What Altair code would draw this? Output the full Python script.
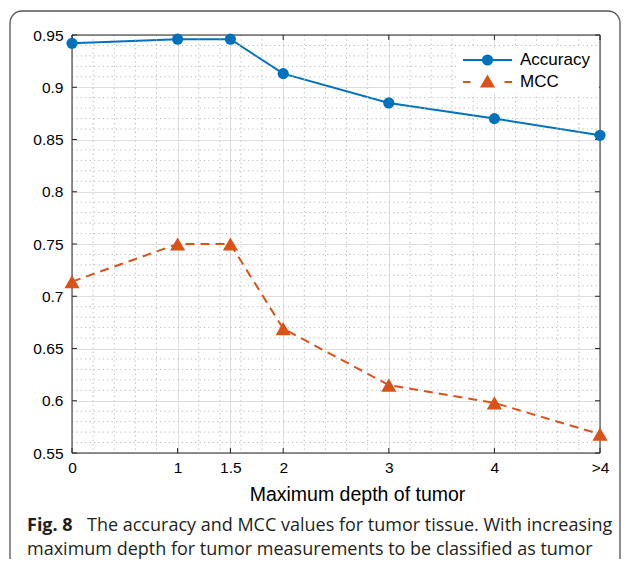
import altair as alt
import pandas as pd

# ---- data ----
depth_pos = [0, 1, 1.5, 2, 3, 4, 5]
depth_labels = ["0", "1", "1.5", "2", "3", "4", ">4"]
accuracy = [0.942, 0.946, 0.946, 0.913, 0.885, 0.870, 0.854]
mcc = [0.714, 0.750, 0.750, 0.669, 0.615, 0.598, 0.568]
series_names = ["Accuracy", "MCC"]
y_ticks = [0.55, 0.6, 0.65, 0.7, 0.75, 0.8, 0.85, 0.9, 0.95]
x_minor = [0.2, 0.4, 0.6, 0.8, 1.2, 1.4, 1.6, 1.8, 2.2, 2.4, 2.6, 2.8,
           3.2, 3.4, 3.6, 3.8, 4.2, 4.4, 4.6, 4.8]
y_minor = [round(0.55 + 0.01 * i, 2) for i in range(1, 40) if i % 5]
x_title = "Maximum depth of tumor"
caption_bold = "Fig. 8"
caption_line1 = "The accuracy and MCC values for tumor tissue. With increasing"
caption_line2 = "maximum depth for tumor measurements to be classified as tumor"

BLUE = "#0072BD"
ORANGE = "#D95319"
AX = "#262626"
W, H = 528, 418
FONT = "Liberation Sans"
CAP_FONT = "Open Sans"

df = pd.DataFrame({"depth": depth_pos, "Accuracy": accuracy, "MCC": mcc})
one = alt.Data(values=[{"a": 1}])

xs = alt.Scale(domain=[0, 5], nice=False, zero=False)
ys = alt.Scale(domain=[0.55, 0.95], nice=False, zero=False)

label_expr = "''"
for p, l in zip(reversed(depth_pos), reversed(depth_labels)):
    label_expr = f"datum.value == {p} ? '{l}' : ({label_expr})"

x_axis = alt.Axis(values=depth_pos, labelExpr=label_expr, grid=True, gridColor="#dedede",
                  gridWidth=1, domain=False, ticks=False, labelPadding=7,
                  labelFlush=False, labelFont=FONT, labelFontSize=15.5, labelColor="#000",
                  title=x_title, titleFont=FONT, titleFontSize=19.5, titleFontWeight="normal",
                  titleColor="#000", titleX=285, titleY=47, titleAlign="center",
                  titleBaseline="alphabetic")
y_axis = alt.Axis(values=y_ticks, format="~g", grid=True, gridColor="#dedede", gridWidth=1,
                  domain=False, ticks=False, labelPadding=9, labelFont=FONT,
                  labelFontSize=15.5, labelColor="#000", title=None)


def X(field):
    return alt.X(field, scale=xs, axis=x_axis, title=x_title)


def Y(field):
    return alt.Y(field, scale=ys, axis=y_axis, title=None)


# outer figure frame
frame = alt.Chart(one).mark_rect(fillOpacity=0, stroke="#555555", strokeWidth=1.3,
                                 cornerRadius=12).encode(
    x=alt.value(-62), x2=alt.value(548), y=alt.value(-24), y2=alt.value(570))

# minor grid
minor_x = alt.Chart(pd.DataFrame({"v": x_minor})).mark_rule(
    color="#b8b8b8", strokeDash=[1.2, 3.2], strokeWidth=1).encode(
    x=X("v:Q"), y=alt.value(0), y2=alt.value(H))
minor_y = alt.Chart(pd.DataFrame({"v": y_minor})).mark_rule(
    color="#b8b8b8", strokeDash=[1.2, 3.2], strokeWidth=1).encode(
    y=Y("v:Q"), x=alt.value(0), x2=alt.value(W))

# plot box
box = alt.Chart(one).mark_rect(fillOpacity=0, stroke=AX, strokeWidth=1).encode(
    x=alt.value(0), x2=alt.value(W), y=alt.value(0), y2=alt.value(H))

# inward ticks
xt = pd.DataFrame({"v": depth_pos})
yt = pd.DataFrame({"v": y_ticks})
tick_b = alt.Chart(xt).mark_rule(color=AX).encode(
    x=X("v:Q"), y=alt.value(H), y2=alt.value(H - 5))
tick_t = alt.Chart(xt).mark_rule(color=AX).encode(
    x=X("v:Q"), y=alt.value(0), y2=alt.value(5))
tick_l = alt.Chart(yt).mark_rule(color=AX).encode(
    y=Y("v:Q"), x=alt.value(0), x2=alt.value(5))
tick_r = alt.Chart(yt).mark_rule(color=AX).encode(
    y=Y("v:Q"), x=alt.value(W - 5), x2=alt.value(W))

# data
acc_line = alt.Chart(df).mark_line(color=BLUE, strokeWidth=2).encode(
    x=X("depth:Q"), y=Y("Accuracy:Q"))
mcc_line = alt.Chart(df).mark_line(color=ORANGE, strokeWidth=2, strokeDash=[9, 6]).encode(
    x=X("depth:Q"), y=Y("MCC:Q"))
acc_pts = alt.Chart(df).mark_point(shape="circle", filled=True, size=125, color=BLUE,
                                   opacity=1).encode(x=X("depth:Q"), y=Y("Accuracy:Q"))
mcc_pts = alt.Chart(df).mark_point(shape="triangle-up", filled=True, size=230, color=ORANGE,
                                   opacity=1).encode(x=X("depth:Q"), y=Y("MCC:Q"))

# legend (drawn manually: line + marker symbols)
leg_bg = alt.Chart(one).mark_rect(color="white").encode(
    x=alt.value(384), x2=alt.value(527), y=alt.value(13), y2=alt.value(58))
leg_acc_line = alt.Chart(one).mark_rule(color=BLUE, strokeWidth=2).encode(
    x=alt.value(391), x2=alt.value(440), y=alt.value(25))
leg_acc_pt = alt.Chart(one).mark_point(shape="circle", filled=True, size=125, color=BLUE,
                                       opacity=1).encode(x=alt.value(415.5), y=alt.value(25))
leg_mcc_line = alt.Chart(one).mark_rule(color=ORANGE, strokeWidth=2,
                                        strokeDash=[7.5, 34]).encode(
    x=alt.value(391), x2=alt.value(440), y=alt.value(47))
leg_mcc_pt = alt.Chart(one).mark_point(shape="triangle-up", filled=True, size=230,
                                       color=ORANGE, opacity=1).encode(
    x=alt.value(415.5), y=alt.value(46))
leg_t1 = alt.Chart(alt.Data(values=[{"t": series_names[0]}])).mark_text(
    align="left", baseline="middle", font=FONT, fontSize=17, color="#000").encode(
    text="t:N", x=alt.value(448), y=alt.value(25))
leg_t2 = alt.Chart(alt.Data(values=[{"t": series_names[1]}])).mark_text(
    align="left", baseline="middle", font=FONT, fontSize=17, color="#000").encode(
    text="t:N", x=alt.value(448), y=alt.value(47))

# caption
cap_b = alt.Chart(alt.Data(values=[{"t": caption_bold}])).mark_text(
    align="left", baseline="alphabetic", font=CAP_FONT, fontSize=18, fontWeight="bold",
    color="#231f20").encode(text="t:N", x=alt.value(-45), y=alt.value(496))
cap_1 = alt.Chart(alt.Data(values=[{"t": caption_line1}])).mark_text(
    align="left", baseline="alphabetic", font=CAP_FONT, fontSize=18,
    color="#231f20").encode(text="t:N", x=alt.value(15), y=alt.value(496))
cap_2 = alt.Chart(alt.Data(values=[{"t": caption_line2}])).mark_text(
    align="left", baseline="alphabetic", font=CAP_FONT, fontSize=18,
    color="#231f20").encode(text="t:N", x=alt.value(-45), y=alt.value(520))

chart = alt.layer(
    acc_line, frame, minor_x, minor_y, box, tick_b, tick_t, tick_l, tick_r,
    mcc_line, acc_pts, mcc_pts,
    leg_bg, leg_acc_line, leg_acc_pt, leg_mcc_line, leg_mcc_pt, leg_t1, leg_t2,
    cap_b, cap_1, cap_2,
).properties(
    width=W, height=H,
    padding={"left": 64, "top": 27, "right": 22, "bottom": 106},
    autosize=alt.AutoSizeParams(type="none"),
    background="white",
).configure_view(strokeWidth=0)

chart.save("out.html", embed_options={"renderer": "svg", "actions": False})
